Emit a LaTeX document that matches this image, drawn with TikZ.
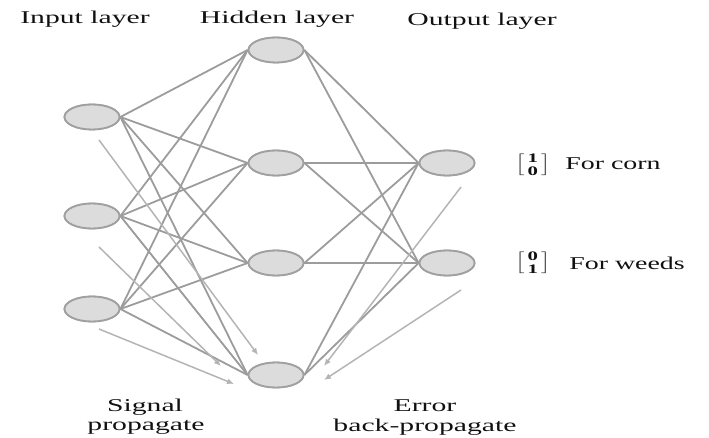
\documentclass[tikz,border=0pt]{standalone}
\usepackage{amsmath}
\usepackage{fontspec}
\setmainfont{Liberation Serif}
\usetikzlibrary{arrows.meta,shapes.geometric}
\definecolor{nodefill}{HTML}{DCDCDC}
\definecolor{nodeline}{HTML}{A0A0A0}
\definecolor{edgecol}{HTML}{9C9C9C}
\definecolor{arrcol}{HTML}{B4B4B4}
\definecolor{txt}{HTML}{111111}
\newcommand{\colvec}[2]{$\left[\mskip3mu\vcenter{\hbox{\shortstack{\textbf{#1}\\[1pt]\textbf{#2}}}}\mskip3mu\right]$}
\begin{document}
\begin{tikzpicture}[x=1pt,y=-1pt,
  neuron/.style={ellipse,draw=nodeline,fill=nodefill,line width=1.8pt,minimum width=55pt,minimum height=25pt,inner sep=0pt},
  conn/.style={draw=edgecol,line width=1.8pt},
  sig/.style={draw=arrcol,line width=1.5pt,-{Latex[length=7pt,width=6pt]}},
  lbl/.style={font=\fontsize{18}{20}\selectfont,text=txt,xscale=1.65,inner sep=0pt},
  side/.style={font=\fontsize{18}{20}\selectfont,text=txt,xscale=1.55,inner sep=0pt,anchor=west},
  vec/.style={font=\fontsize{13}{14}\selectfont,text=txt,xscale=1.6,inner sep=0pt,anchor=west}]
\useasboundingbox (0,0) rectangle (709,438);
% neurons
\node[neuron] (i1) at (92,117) {};
\node[neuron] (i2) at (92,216) {};
\node[neuron] (i3) at (92,309) {};
\node[neuron] (h1) at (276,50) {};
\node[neuron] (h2) at (276,163) {};
\node[neuron] (h3) at (276,263) {};
\node[neuron] (h4) at (276,375) {};
\node[neuron] (o1) at (447,163) {};
\node[neuron] (o2) at (447,263) {};
% connections
\foreach \i in {i1,i2,i3}{
  \foreach \h in {h1,h2,h3,h4}{
    \draw[conn] (\i.east) -- (\h.west);
  }
}
\foreach \h in {h1,h2,h3,h4}{
  \foreach \o in {o1,o2}{
    \draw[conn] (\h.east) -- (\o.west);
  }
}
% redraw neurons on top of the connections
\foreach \n in {i1,i2,i3,h1,h2,h3,h4,o1,o2}{
  \node[neuron] at (\n) {};
}
% signal arrows
\coordinate (s1a) at (99,140); \coordinate (s1b) at (258,355);
\coordinate (s2a) at (99,247); \coordinate (s2b) at (221,366);
\coordinate (s3a) at (99,329); \coordinate (s3b) at (234,384);
\draw[sig] (s1a) -- (s1b);
\draw[sig] (s2a) -- (s2b);
\draw[sig] (s3a) -- (s3b);
% error arrows
\coordinate (e1a) at (461,187); \coordinate (e1b) at (324,366);
\coordinate (e2a) at (461,290); \coordinate (e2b) at (324,380);
\draw[sig] (e1a) -- (e1b);
\draw[sig] (e2a) -- (e2b);
% labels
\node[lbl] (tin) at (85,19) {Input layer};
\node[lbl] (thid) at (277,19) {Hidden layer};
\node[lbl] (tout) at (482,21) {Output layer};
\node[lbl] (tsig1) at (145,407) {Signal};
\node[lbl] (tsig2) at (146,427) {propagate};
\node[lbl] (terr1) at (425,406) {Error};
\node[lbl] (terr2) at (425,427) {back-propagate};
\node[vec] (v1) at (515,165) {\colvec{1}{0}};
\node[vec] (v2) at (515,263) {\colvec{0}{1}};
\node[side] (c1) at (565,164) {For corn};
\node[side] (c2) at (569,263) {For weeds};
\end{tikzpicture}
\end{document}
